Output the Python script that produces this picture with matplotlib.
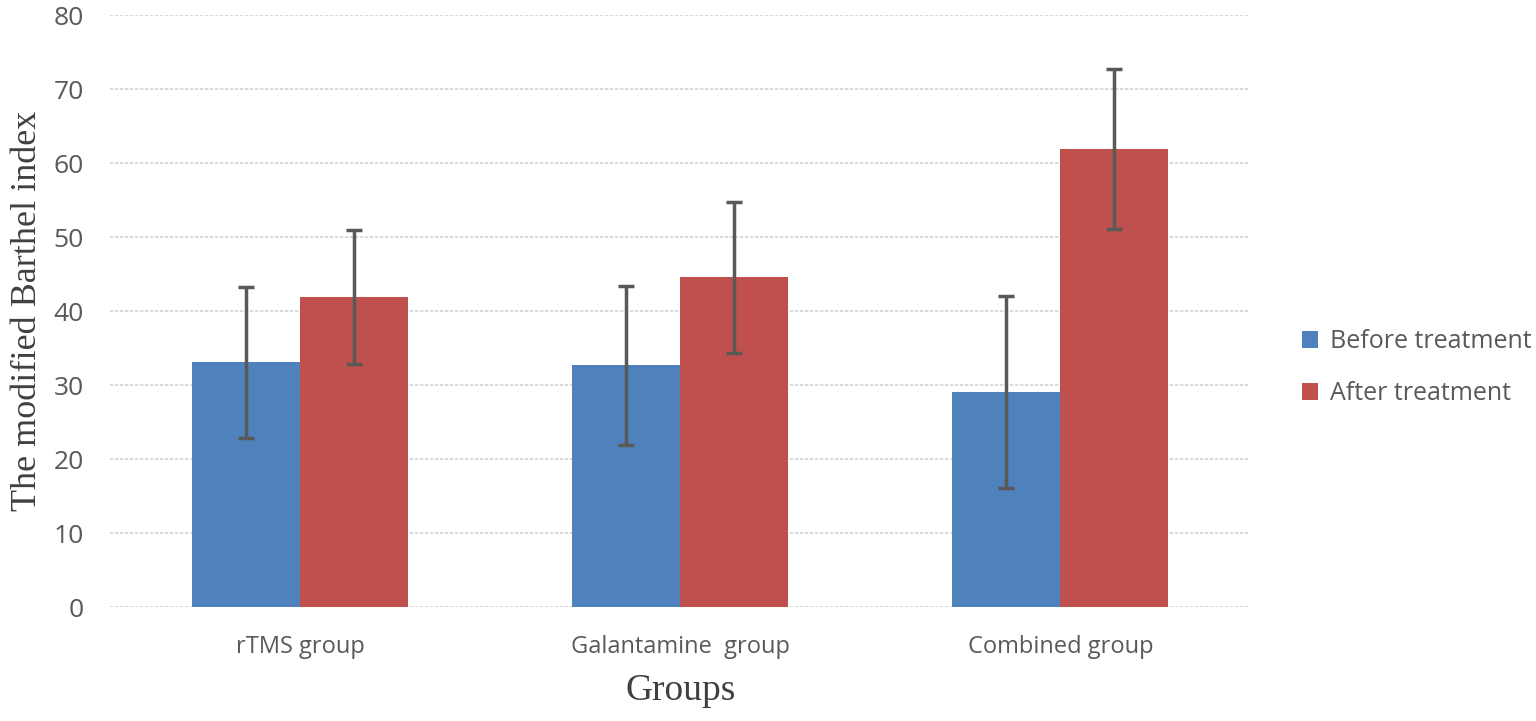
import numpy as np
import matplotlib
matplotlib.use('Agg')
from matplotlib import pyplot as plt

groups = ['rTMS group', 'Galantamine  group', 'Combined group']
before = [33.1, 32.65, 29.1]
after = [41.9, 44.6, 61.9]
before_err = [10.2, 10.7, 13.0]
after_err = [9.0, 10.2, 10.8]
series_names = ['Before treatment', 'After treatment']
yticks = [0, 10, 20, 30, 40, 50, 60, 70, 80]

blue = '#4F81BD'
red = '#C0504D'
grey_txt = '#595959'

fig = plt.figure(figsize=(15.36, 7.21), dpi=100)
ax = fig.add_axes([0.0716, 0.158, 0.7425, 0.821])

x = np.arange(len(groups))
w = 0.284
err_kw = dict(ecolor='#595959', elinewidth=2.5, capsize=5.5, capthick=2.5)
ax.bar(x - w/2, before, w, yerr=before_err, color=blue, label=series_names[0],
       error_kw=err_kw, zorder=2)
ax.bar(x + w/2, after, w, yerr=after_err, color=red, label=series_names[1],
       error_kw=err_kw, zorder=2)

ax.set_xlim(-0.5, 2.5)
ax.set_ylim(0, 80)
ax.set_yticks(yticks)
ax.yaxis.grid(True, color='#d4d4d4', lw=1.2, ls=(0, (2, 1)), zorder=0)
ax.set_axisbelow(True)
for s in ax.spines.values():
    s.set_visible(False)
ax.tick_params(length=0)
ax.tick_params(axis='y', labelsize=19, labelcolor=grey_txt, pad=19)
ax.tick_params(axis='x', labelsize=17, labelcolor=grey_txt, pad=20)
ax.set_xticks(x)
ax.set_xticklabels(groups, fontfamily='Open Sans')
for lab in ax.get_yticklabels():
    lab.set_fontfamily('Open Sans')

ax.set_ylabel('The modified Barthel index', fontfamily='Liberation Serif',
              fontsize=26, color='#404040')
ax.yaxis.set_label_coords(-0.058, 0.5)
ax.set_xlabel('Groups', fontfamily='Liberation Serif', fontsize=27,
              color='#404040')
ax.xaxis.set_label_coords(0.5, -0.112)

fig.legend(loc='center left', bbox_to_anchor=(0.8477, 0.49), frameon=False,
           borderaxespad=0, borderpad=0,
           labelcolor=grey_txt, handlelength=0.65, handleheight=0.65,
           handletextpad=0.45, labelspacing=1.1,
           prop={'family': 'Open Sans', 'size': 18})

fig.savefig('out.png', dpi=100)
